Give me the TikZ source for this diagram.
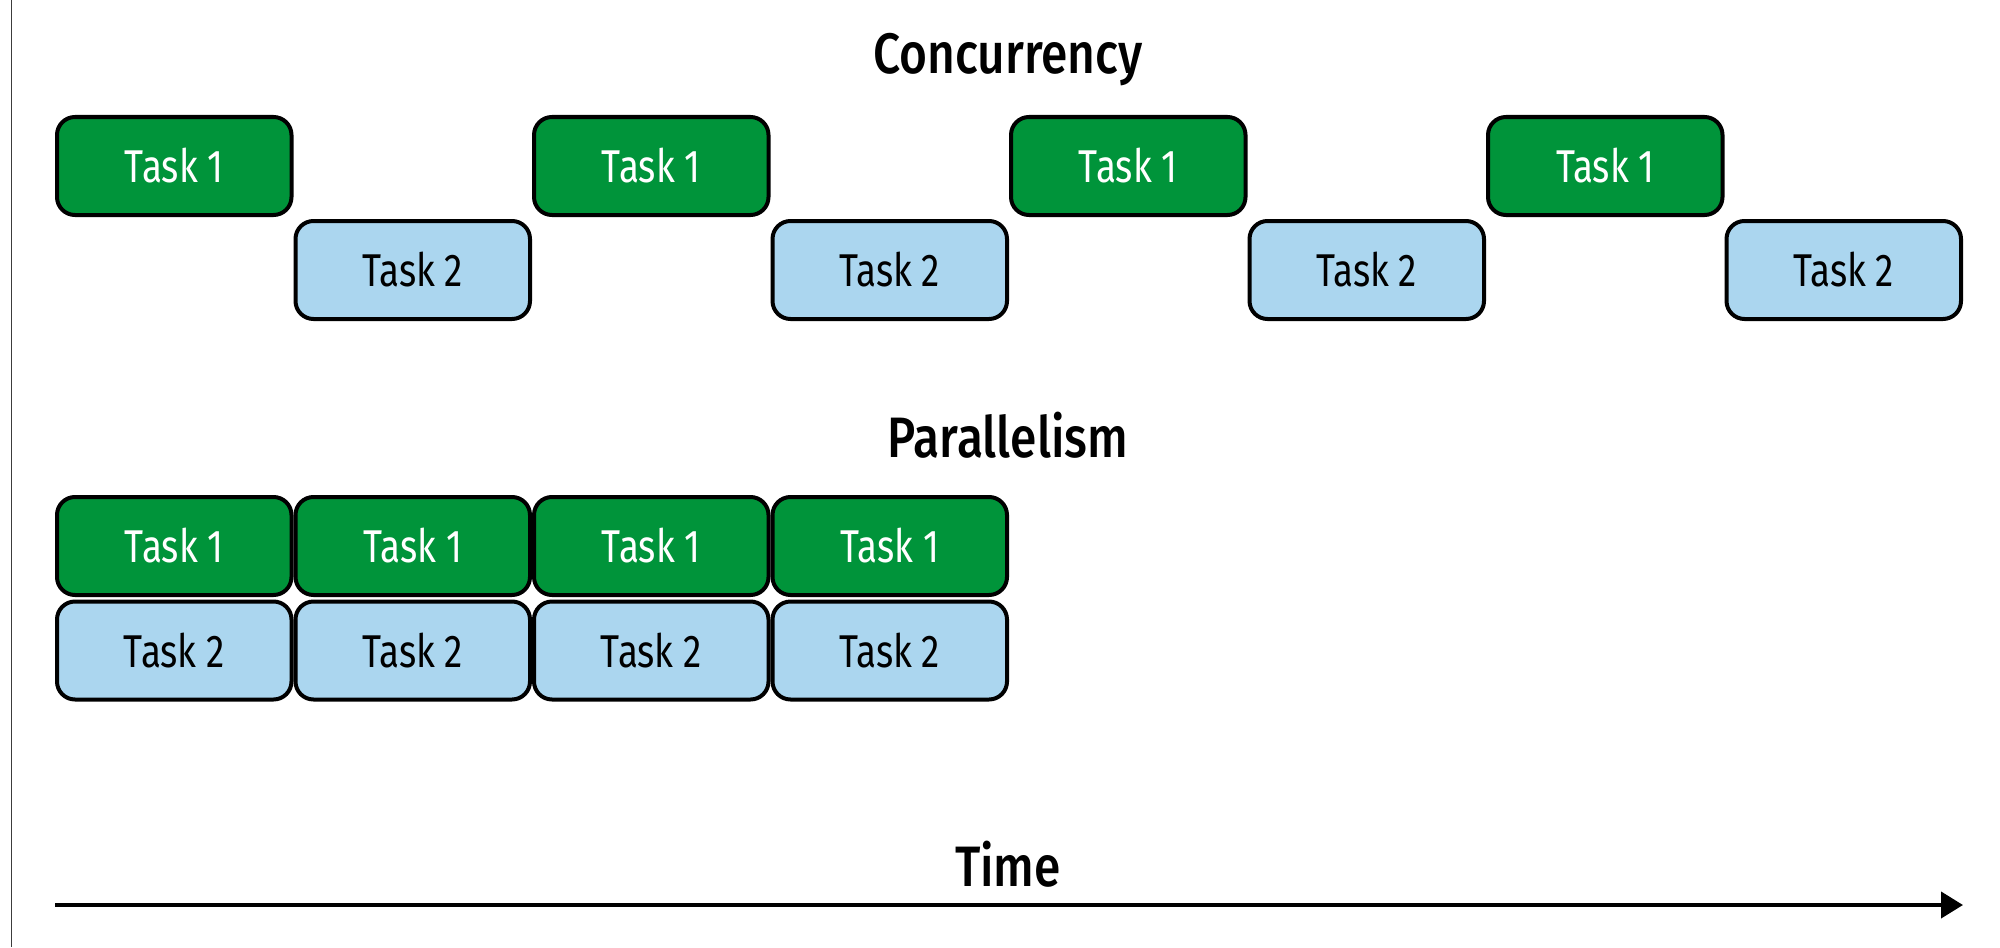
\documentclass[tikz,border=0pt]{standalone}
\usepackage{fontspec}
\setmainfont[FakeStretch=0.8]{Fira Sans}
\newfontfamily\headfont[FakeStretch=0.84]{Fira Sans Medium}
\usetikzlibrary{arrows.meta}
\definecolor{taskgreen}{RGB}{0,148,58}
\definecolor{taskblue}{RGB}{171,214,239}
\definecolor{framegray}{RGB}{60,60,60}
\tikzset{
  taskbox/.style={draw=black, line width=2pt, rounded corners=9pt,
    minimum width=117.25pt, minimum height=49pt, inner sep=0pt,
    font=\fontsize{23}{26}\selectfont},
  taskone/.style={taskbox, fill=taskgreen, text=white},
  tasktwo/.style={taskbox, fill=taskblue, text=black},
  heading/.style={font=\headfont\fontsize{28.5}{31}\selectfont, text=black, inner sep=0pt},
  timeline/.style={line width=2pt, -{Triangle[length=11pt,width=13pt]}}
}
\begin{document}
\begin{tikzpicture}[x=0.5pt,y=-0.5pt]
\useasboundingbox (0,0) rectangle (2000,947);
\draw[framegray, line width=0.9pt] (11.5,0) -- (11.5,947);
\node[heading] (conc) at (1008,60) {Concurrency};
\node[taskone] (c1a) at (174.25,166) {Task 1};
\node[tasktwo] (c2a) at (412.75,270) {Task 2};
\node[taskone] (c1b) at (651.25,166) {Task 1};
\node[tasktwo] (c2b) at (889.75,270) {Task 2};
\node[taskone] (c1c) at (1128.25,166) {Task 1};
\node[tasktwo] (c2c) at (1366.75,270) {Task 2};
\node[taskone] (c1d) at (1605.25,166) {Task 1};
\node[tasktwo] (c2d) at (1843.75,270) {Task 2};
\node[heading] (para) at (1008,435) {Parallelism};
\node[taskone] (p1a) at (174.25,546) {Task 1};
\node[taskone] (p1b) at (412.75,546) {Task 1};
\node[taskone] (p1c) at (651.25,546) {Task 1};
\node[taskone] (p1d) at (889.75,546) {Task 1};
\node[tasktwo] (p2a) at (174.25,650.5) {Task 2};
\node[tasktwo] (p2b) at (412.75,650.5) {Task 2};
\node[tasktwo] (p2c) at (651.25,650.5) {Task 2};
\node[tasktwo] (p2d) at (889.75,650.5) {Task 2};
\node[heading] (time) at (1008,864) {Time};
\coordinate (tstart) at (55,905);
\coordinate (tend) at (1963,905);
\draw[timeline] (tstart) -- (tend);
\end{tikzpicture}
\end{document}
